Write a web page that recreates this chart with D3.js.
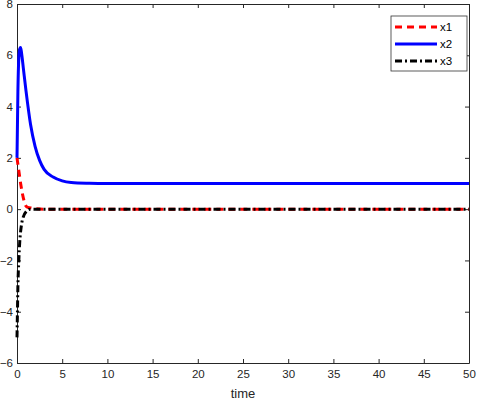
<!DOCTYPE html>
<html><head><meta charset="utf-8">
<script src="https://cdn.jsdelivr.net/npm/d3@7"></script>
<style>body{margin:0;background:#fff}text{font-family:"Liberation Sans",Arial,sans-serif}</style>
</head><body><div id="chart"></div>
<script>
// values
const x1T = [0, 0.2, 0.4, 0.6, 0.8, 1.0, 1.2, 1.5, 2, 3, 50];
const x1V = [2, 1.5, 1.0, 0.6, 0.3, 0.12, 0.07, 0.05, 0.02, 0, 0];
const x2T = [0, 0.1, 0.2, 0.3, 0.4, 0.5, 0.7, 1, 1.5, 2, 2.5, 3, 4, 5, 6, 8, 10, 50];
const x2V = [2, 4.6, 5.9, 6.25, 6.3, 6.1, 5.5, 4.6, 3.3, 2.45, 1.9, 1.55, 1.25, 1.1, 1.04, 1.01, 1.0, 1.0];
const x3T = [0, 0.05, 0.1, 0.2, 0.3, 0.5, 0.7, 1, 1.5, 50];
const x3V = [-5, -4, -3, -2, -1.3, -0.6, -0.3, -0.1, 0, 0];
const xTicks = d3.range(0, 51, 5);
const yTicks = d3.range(-6, 9, 2);

const W = 478, H = 404, m = {left: 17, right: 9, top: 4, bottom: 41};
const svg = d3.select('#chart').append('svg').attr('width', W).attr('height', H);
const x = d3.scaleLinear().domain([0, 50]).range([m.left, W - m.right]);
const y = d3.scaleLinear().domain([-6, 8]).range([H - m.bottom, m.top]);
const ink = '#262626';

// axes with inward ticks on all sides
const axes = [
  [d3.axisBottom(x).tickValues(xTicks), `translate(0,${y(-6)})`, 7],
  [d3.axisTop(x).tickValues(xTicks).tickFormat(''), `translate(0,${y(8)})`, 7],
  [d3.axisLeft(y).tickValues(yTicks), `translate(${x(0)},0)`, 4],
  [d3.axisRight(y).tickValues(yTicks).tickFormat(''), `translate(${x(50)},0)`, 4]
];
axes.forEach(([ax, tr, pad]) => {
  const g = svg.append('g').attr('transform', tr)
    .call(ax.tickSizeInner(-4).tickSizeOuter(0).tickPadding(pad));
  g.select('.domain').attr('stroke', ink);
  g.selectAll('line').attr('stroke', ink);
  g.selectAll('text').attr('fill', ink).style('font-size', '11.5px');
});

svg.append('text').attr('x', x(25)).attr('y', H - 6).attr('text-anchor', 'middle')
  .attr('fill', ink).style('font-size', '13px').text('time');

const line = d3.line().x(d => x(d[0])).y(d => y(d[1])).curve(d3.curveMonotoneX);
const series = [
  {name: 'x1', t: x1T, v: x1V, color: '#ff0000', dash: '7,5'},
  {name: 'x2', t: x2T, v: x2V, color: '#0000ff', dash: null},
  {name: 'x3', t: x3T, v: x3V, color: '#000000', dash: '7,3,2,3'}
];
series.forEach(s => {
  svg.append('path').datum(s.t.map((t, i) => [t, s.v[i]]))
    .attr('d', line).attr('fill', 'none').attr('stroke', s.color)
    .attr('stroke-width', 3).attr('stroke-dasharray', s.dash);
});

// legend
const lg = svg.append('g').attr('transform', 'translate(391,16)');
lg.append('rect').attr('width', 76).attr('height', 55).attr('fill', '#fff')
  .attr('stroke', '#333').attr('stroke-width', 0.8);
series.forEach((s, i) => {
  const yy = 11 + i * 17;
  lg.append('line').attr('x1', 4).attr('x2', 46).attr('y1', yy).attr('y2', yy)
    .attr('stroke', s.color).attr('stroke-width', 3).attr('stroke-dasharray', s.dash);
  lg.append('text').attr('x', 49).attr('y', yy + 4).attr('fill', '#000')
    .style('font-size', '11.5px').text(s.name);
});
</script></body></html>
